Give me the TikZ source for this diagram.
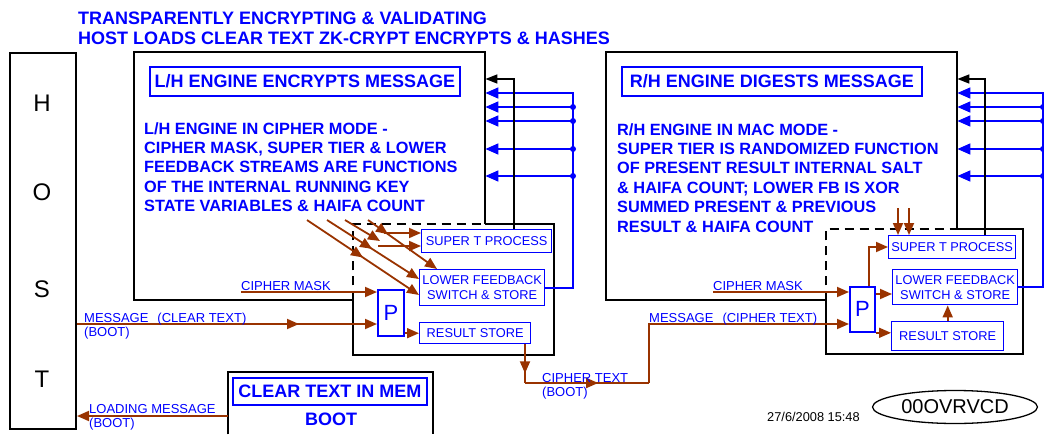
\documentclass[tikz,border=0pt]{standalone}
\usepackage{fontspec}
\setmainfont{Liberation Sans}
\usepackage{xcolor}
\usetikzlibrary{positioning,arrows.meta,calc,shapes.geometric,decorations.markings}
\definecolor{rust}{RGB}{153,51,0}
\definecolor{ink}{RGB}{0,0,255}
\tikzset{
  hostbox/.style ={draw, line width=2pt, anchor=north west, inner sep=0pt},
  engbox/.style  ={anchor=north west, inner sep=0pt, minimum width=351pt, minimum height=248pt},
  procbox/.style ={anchor=north west, inner sep=0pt},
  ttlbox/.style  ={draw=ink, line width=1.8pt, anchor=north west, inner sep=0pt, text=ink, font=\fontsize{18}{20}\selectfont\bfseries},
  subbox/.style  ={draw=ink, line width=1.4pt, anchor=north west, inner sep=0pt, text=ink, align=center, font=\fontsize{12.8}{15}\selectfont},
  pbox/.style    ={draw=ink, line width=1.8pt, anchor=north west, inner sep=0pt, text=ink, font=\fontsize{22}{24}\selectfont},
  body/.style    ={anchor=north west, inner sep=0pt, text=ink, align=left, font=\fontsize{16.3}{19.4}\selectfont\bfseries},
  lbl/.style     ={anchor=base west, inner sep=0pt, text=ink, font=\fontsize{13}{14}\selectfont},
  hletter/.style ={inner sep=0pt, font=\fontsize{24}{26}\selectfont},
  edge/.style    ={line width=2pt, line join=miter},
  dashes/.style  ={line width=1.4pt, dash pattern=on 9pt off 6pt},
  brn/.style     ={rust, line width=1.8pt},
  brnarr/.style  ={rust, line width=1.8pt, -{Triangle[length=12pt,width=10pt]}},
  bluarr/.style  ={ink, line width=1.6pt, -{Triangle[length=13pt,width=11pt]}},
  blkarr/.style  ={black, line width=1.6pt, -{Triangle[length=12pt,width=9pt]}},
  midarr/.style  ={postaction={decorate}, decoration={markings, mark=at position #1 with {\arrow{Triangle[length=12pt,width=10pt]}}}},
}

\begin{document}
\begin{tikzpicture}[x=1pt, y=-1pt]
  \useasboundingbox (0,0) rectangle (1044,434);

  \node[anchor=north west, inner sep=0pt, text=ink, align=left, font=\fontsize{18}{20}\selectfont\bfseries] (title) at (78,12)
    {TRANSPARENTLY ENCRYPTING \& VALIDATING\\HOST LOADS CLEAR TEXT ZK-CRYPT ENCRYPTS \& HASHES};

  % host
  \node[hostbox, minimum width=66pt, minimum height=376pt] (host) at (9,52) {};
  \node[hletter] (hH) at (42,103) {H};
  \node[hletter] (hO) at (42,192) {O};
  \node[hletter] (hS) at (42,289) {S};
  \node[hletter] (hT) at (42,379) {T};

  % left engine
  \node[engbox] (lheng) at (134,52) {};
  \node[procbox, minimum width=201pt, minimum height=131pt] (lproc) at (353,224) {};
  \draw[edge] (lproc.north west -| lheng.east) -- (lheng.north east) -- (lheng.north west) -- (lheng.south west) -- (lheng.south -| lproc.west);
  \draw[edge] (lheng.south -| lproc.west) -- (lproc.south west) -- (lproc.south east) -- (lproc.north east) -- (lproc.north -| lheng.east);
  \draw[dashes] (lheng.south -| lproc.west) -- (lproc.north west) -- (lproc.north -| lheng.east);
  \node[ttlbox, minimum width=310pt, minimum height=29pt] (ltitle) at (149,66) {L/H ENGINE ENCRYPTS MESSAGE};
  \node[body] (lbody) at (144,122) {L/H ENGINE IN CIPHER MODE -\\CIPHER MASK, SUPER TIER \& LOWER\\FEEDBACK STREAMS ARE FUNCTIONS\\OF THE INTERNAL RUNNING KEY\\STATE VARIABLES \& HAIFA COUNT};
  \node[subbox, minimum width=130pt, minimum height=23pt] (lsup) at (421,229) {SUPER T PROCESS};
  \node[subbox, minimum width=125pt, minimum height=36pt] (llow) at (419,269) {LOWER FEEDBACK\\SWITCH \& STORE};
  \node[pbox, minimum width=26pt, minimum height=46pt] (lp) at (377,289) {P};
  \node[subbox, minimum width=111pt, minimum height=21pt] (lres) at (419,322) {RESULT STORE};

  % right engine
  \node[engbox] (rheng) at (606,52) {};
  \node[procbox, minimum width=197pt, minimum height=125pt] (rproc) at (826,229) {};
  \draw[edge] (rproc.north west -| rheng.east) -- (rheng.north east) -- (rheng.north west) -- (rheng.south west) -- (rheng.south -| rproc.west);
  \draw[edge] (rheng.south -| rproc.west) -- (rproc.south west) -- (rproc.south east) -- (rproc.north east) -- (rproc.north -| rheng.east);
  \draw[dashes] (rheng.south -| rproc.west) -- (rproc.north west) -- (rproc.north -| rheng.east);
  \node[ttlbox, minimum width=300pt, minimum height=29pt] (rtitle) at (621,66) {R/H ENGINE DIGESTS MESSAGE};
  \node[body] (rbody) at (617,123) {R/H ENGINE IN MAC MODE -\\SUPER TIER IS RANDOMIZED FUNCTION\\OF PRESENT RESULT INTERNAL SALT\\\& HAIFA COUNT; LOWER FB IS XOR\\SUMMED PRESENT \& PREVIOUS\\RESULT \& HAIFA COUNT};
  \node[subbox, minimum width=127pt, minimum height=23pt] (rsup) at (888,235) {SUPER T PROCESS};
  \node[subbox, minimum width=125pt, minimum height=35pt] (rlow) at (892,269) {LOWER FEEDBACK\\SWITCH \& STORE};
  \node[pbox, minimum width=25pt, minimum height=45pt] (rp) at (849,286) {P};
  \node[subbox, minimum width=112pt, minimum height=29pt] (rres) at (891,321) {RESULT STORE};

  % boot memory
  \node[procbox, minimum width=205pt, minimum height=62pt] (cbox) at (228,372) {};
  \draw[edge] (cbox.south west) -- (cbox.north west) -- (cbox.north east) -- (cbox.south east);
  \node[ttlbox, minimum width=194pt, minimum height=27pt] (ctitle) at (232,377) {CLEAR TEXT IN MEM};
  \node[inner sep=0pt, text=ink, font=\fontsize{18}{20}\selectfont\bfseries] (cboot) at (331,419) {BOOT};

  \node[draw, ellipse, line width=1.3pt, minimum width=165pt, minimum height=33pt, inner sep=0pt, font=\fontsize{20}{22}\selectfont] (code) at (955,407) {00OVRVCD};
  \node[anchor=base west, inner sep=0pt, font=\fontsize{12.8}{14}\selectfont] (date) at (767,421) {27/6/2008 15:48};

  % feedback buses
  \coordinate (lbus) at (573,93);
  \coordinate (rbus) at (1043,93);
  \draw[bluarr] (llow.east) -| (lbus) -- (lheng.east |- lbus);
  \draw[bluarr] (rlow.east) -| (rbus) -- (rheng.east |- rbus);
  \foreach \y in {107,121,149,176}{
    \fill[ink] (lbus |- 0,\y) circle (3pt);
    \draw[bluarr] (lbus |- 0,\y) -- (lheng.east |- 0,\y);
    \fill[ink] (rbus |- 0,\y) circle (3pt);
    \draw[bluarr] (rbus |- 0,\y) -- (rheng.east |- 0,\y);
  }
  \coordinate (lblk) at (514,79);
  \coordinate (rblk) at (985,79);
  \draw[blkarr] (lsup.north -| lblk) |- (lheng.east |- lblk);
  \draw[blkarr] (rsup.north -| rblk) |- (rheng.east |- rblk);

  % left data flow
  \coordinate (lcm) at (241,292);
  \draw[brnarr] (lcm) -- (lp.west |- lcm);
  \node[lbl] (lcmlbl) at (241,290) {CIPHER MASK};
  \draw[brnarr, midarr=0.74] (host.east |- 0,324) -- (lp.west |- 0,324);
  \node[lbl] (lmsg) at (84,322) {MESSAGE\hspace{9pt}(CLEAR TEXT)};
  \node[lbl] (lmsgb) at (84,336) {(BOOT)};
  \draw[brnarr] (lp.east |- lres.west) -- (lres.west);

  \coordinate (d1) at (307,220);
  \coordinate (d2) at (327,220);
  \coordinate (d3) at (345,220);
  \coordinate (d4) at (368,220);
  \coordinate (c3) at (380,241);
  \coordinate (h1) at (384,233);
  \coordinate (h2) at (378,246);
  \draw[brnarr, midarr=0.5] (d1) -- (llow.west |- 0,295);
  \draw[brnarr, midarr=0.49] (d2) -- (llow.west |- 0,279);
  \draw[brnarr] (d3) -- (c3);
  \draw[brnarr, midarr=0.29] (d4) -- (llow.north -| 437,0);
  \draw[brnarr] (h1) -- (lsup.west |- h1);
  \draw[brnarr] (h2) -- (lsup.west |- h2);

  % cipher text to right engine
  \coordinate (ct1) at (525,383);
  \coordinate (ct2) at (649,383);
  \draw[brn, midarr=0.75] (lres.south -| ct1) -- (ct1);
  \draw[brn, midarr=0.59] (ct1) -- (ct2);
  \draw[brnarr] (ct2) |- (rp.west |- 0,324);
  \node[lbl] (ctlbl) at (542,382) {CIPHER TEXT};
  \node[lbl] (ctlblb) at (542,396) {(BOOT)};
  \node[lbl] (rmsg) at (649,322) {MESSAGE\hspace{9pt}(CIPHER TEXT)};

  % right data flow
  \coordinate (rcm) at (713,292);
  \draw[brnarr] (rcm) -- (rp.west |- rcm);
  \node[lbl] (rcmlbl) at (713,290) {CIPHER MASK};
  \draw[brnarr] (rp.north -| 869,0) |- (rsup.west |- 0,247);
  \draw[brnarr] (rp.east |- 0,294) -- (rlow.west |- 0,294);
  \draw[brnarr] (rp.south east) -- (rres.west |- rp.south east);
  \draw[brnarr] (rres.north) -- (rres.north |- rlow.south);
  \coordinate (u1) at (898,208);
  \coordinate (u2) at (909,208);
  \draw[brnarr] (u1) -- (rsup.north -| u1);
  \draw[brnarr] (u2) -- (rsup.north -| u2);

  % boot loading
  \draw[brnarr] (cbox.west |- 0,416) -- (host.east |- 0,416);
  \node[lbl] (ldlbl) at (89,413) {LOADING MESSAGE};
  \node[lbl] (ldlblb) at (89,427) {(BOOT)};
\end{tikzpicture}
\end{document}
